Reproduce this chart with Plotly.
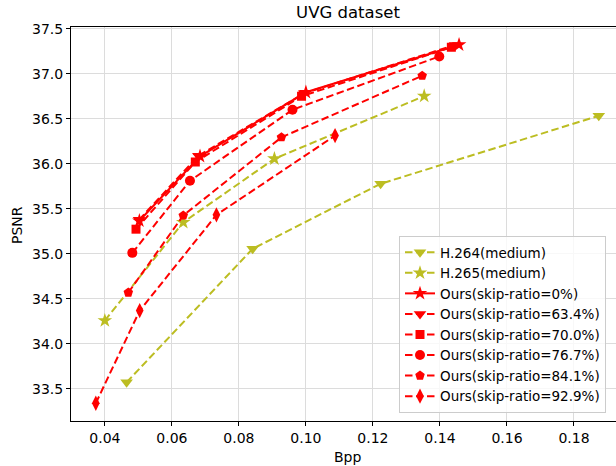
import plotly.graph_objects as go

# ---- data ----
h264_bpp = [0.0465, 0.0841, 0.1223, 0.1874]
h264_psnr = [33.574, 35.056, 35.778, 36.533]

h265_bpp = [0.0400, 0.0634, 0.0906, 0.1353]
h265_psnr = [34.259, 35.350, 36.056, 36.752]

ours0_bpp = [0.0503, 0.0684, 0.1000, 0.1457]
ours0_psnr = [35.367, 36.083, 36.794, 37.322]

ours634_bpp = [0.0502, 0.0679, 0.0995, 0.1445]
ours634_psnr = [35.378, 36.089, 36.783, 37.320]

ours700_bpp = [0.0493, 0.0670, 0.0987, 0.1434]
ours700_psnr = [35.274, 36.020, 36.750, 37.294]

ours767_bpp = [0.0482, 0.0654, 0.0960, 0.1398]
ours767_psnr = [35.011, 35.811, 36.600, 37.192]

ours841_bpp = [0.0470, 0.0634, 0.0927, 0.1347]
ours841_psnr = [34.570, 35.426, 36.294, 36.978]

ours929_bpp = [0.0373, 0.0504, 0.0733, 0.1087]
ours929_psnr = [33.341, 34.370, 35.433, 36.313]

x_ticks = [0.04, 0.06, 0.08, 0.10, 0.12, 0.14, 0.16, 0.18]
y_ticks = [33.5, 34.0, 34.5, 35.0, 35.5, 36.0, 36.5, 37.0, 37.5]

OLIVE = "#bcbd22"
RED = "#ff0000"
DASH = "7.5px,3.5px"
FONT = "DejaVu Sans"

series = [
    ("H.264(medium)", h264_bpp, h264_psnr, OLIVE, DASH, "triangle-down", 11),
    ("H.265(medium)", h265_bpp, h265_psnr, OLIVE, DASH, "star", 11),
    ("Ours(skip-ratio=0%)", ours0_bpp, ours0_psnr, RED, "solid", "star", 11),
    ("Ours(skip-ratio=63.4%)", ours634_bpp, ours634_psnr, RED, DASH, "triangle-down", 11),
    ("Ours(skip-ratio=70.0%)", ours700_bpp, ours700_psnr, RED, DASH, "square", 9),
    ("Ours(skip-ratio=76.7%)", ours767_bpp, ours767_psnr, RED, DASH, "circle", 10),
    ("Ours(skip-ratio=84.1%)", ours841_bpp, ours841_psnr, RED, DASH, "pentagon", 10),
    ("Ours(skip-ratio=92.9%)", ours929_bpp, ours929_psnr, RED, DASH, "diamond-tall", 11),
]

fig = go.Figure()
for name, xs, ys, color, dash, sym, size in series:
    fig.add_trace(go.Scatter(
        x=xs, y=ys, name=name, mode="lines+markers",
        line=dict(color=color, width=2, dash=dash),
        marker=dict(symbol=sym, size=size, color=color, line=dict(width=0)),
    ))

W, H = 616, 466
L, R, T, B = 71, 0, 27, 45
PW = W - L - R
PH = H - T - B

fig.update_layout(
    template="none",
    width=W, height=H,
    margin=dict(l=L, r=R, t=T, b=B, pad=0, autoexpand=False),
    paper_bgcolor="white", plot_bgcolor="white",
    font=dict(family=FONT, size=14, color="black"),
    title=dict(text="UVG dataset", x=(348 - L) / PW, xref="paper",
               xanchor="center", y=1 - 12 / H, yanchor="middle",
               font=dict(family=FONT, size=16.5, color="black")),
    showlegend=True,
    legend=dict(
        x=(399 - L) / PW, y=(H - B - 413) / PH, xanchor="left", yanchor="bottom",
        bgcolor="rgba(255,255,255,0.8)", bordercolor="#cccccc", borderwidth=1,
        font=dict(family=FONT, size=13.5, color="black"),
        tracegroupgap=0, itemwidth=30,
    ),
    xaxis=dict(
        range=[0.0299, 0.04 + (616 - 105) / 3350], automargin=False,
        tickvals=x_ticks, ticktext=[f"{v:.2f}" for v in x_ticks],
        showgrid=True, gridcolor="#dcdcdc", gridwidth=1,
        showline=True, linecolor="black", linewidth=1, mirror=True,
        ticks="outside", ticklen=4, tickcolor="black", zeroline=False,
    ),
    yaxis=dict(
        range=[33.144, 37.519], automargin=False,
        tickvals=y_ticks, ticktext=[f"{v:.1f}" for v in y_ticks],
        showgrid=True, gridcolor="#dcdcdc", gridwidth=1,
        showline=True, linecolor="black", linewidth=1, mirror=False,
        ticks="outside", ticklen=4, tickcolor="black", zeroline=False,
    ),
    annotations=[
        dict(text="Bpp", xref="paper", yref="paper",
             x=(347.5 - L) / PW, y=-(457 - (H - B)) / PH,
             xanchor="center", yanchor="middle", showarrow=False,
             font=dict(family=FONT, size=14, color="black")),
        dict(text="PSNR", xref="paper", yref="paper",
             x=-(L - 17) / PW, y=(H - B - 225) / PH,
             xanchor="center", yanchor="middle", showarrow=False, textangle=-90,
             font=dict(family=FONT, size=14, color="black")),
    ],
)

fig.write_html(
    "out.html",
    config={"displayModeBar": False},
    post_script="document.body.style.margin='0';document.body.style.overflow='hidden';",
)
